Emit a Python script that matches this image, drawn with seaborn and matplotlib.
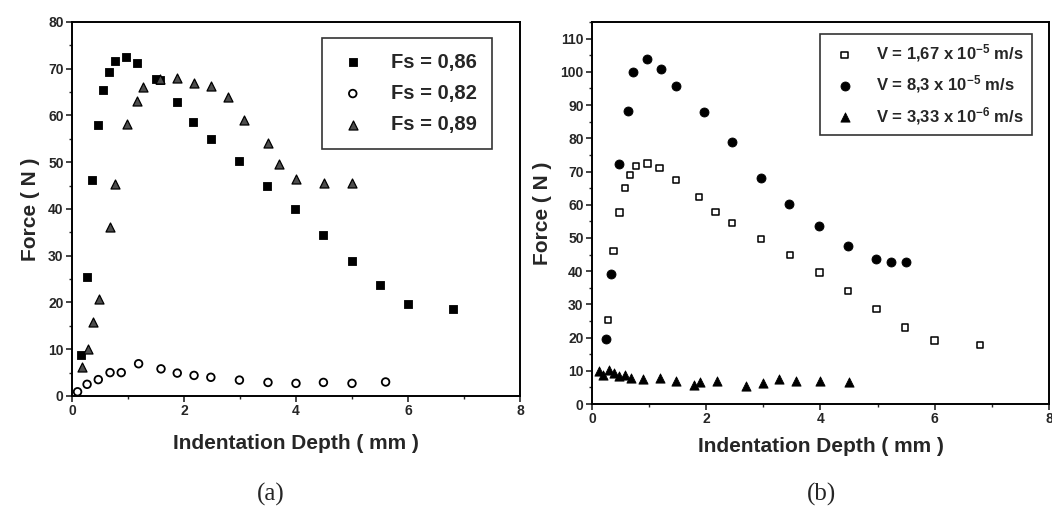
"""
Force vs indentation depth, two panels: (a) by Fs, (b) by indentation speed.
"""
import numpy as np
import pandas as pd
import matplotlib
matplotlib.use("Agg")
import matplotlib.pyplot as plt
from matplotlib.ticker import MultipleLocator
import seaborn as sns

# ---- panel (a) data ----
a_fs86_x = [0.17, 0.26, 0.36, 0.47, 0.56, 0.66, 0.76, 0.97, 1.17, 1.50, 1.58, 1.88,
            2.17, 2.48, 2.99, 3.48, 3.99, 4.49, 5.00, 5.50, 6.00, 6.80]
a_fs86_y = [8.8, 25.5, 46.3, 58.0, 65.4, 69.3, 71.6, 72.5, 71.3, 67.9, 67.5, 62.9,
            58.5, 55.0, 50.2, 44.9, 39.9, 34.4, 28.9, 23.7, 19.7, 18.6]
a_fs82_x = [0.10, 0.27, 0.47, 0.68, 0.88, 1.19, 1.59, 1.88, 2.18, 2.48, 2.99, 3.50,
            4.00, 4.49, 5.00, 5.60]
a_fs82_y = [0.9, 2.5, 3.5, 5.0, 5.0, 6.9, 5.8, 4.9, 4.4, 4.0, 3.4, 2.9,
            2.7, 2.9, 2.7, 3.0]
a_fs89_x = [0.18, 0.28, 0.37, 0.49, 0.68, 0.77, 0.98, 1.17, 1.27, 1.58, 1.88, 2.18,
            2.48, 2.79, 3.07, 3.50, 3.70, 4.00, 4.50, 5.00]
a_fs89_y = [6.2, 10.1, 15.8, 20.8, 36.1, 45.3, 58.1, 63.0, 66.0, 67.8, 68.0, 67.0,
            66.2, 64.0, 59.0, 54.2, 49.6, 46.5, 45.6, 45.6]

# ---- panel (b) data ----
b_v167_x = [0.28, 0.38, 0.48, 0.58, 0.67, 0.77, 0.97, 1.18, 1.47, 1.87, 2.16, 2.45,
            2.96, 3.47, 3.98, 4.48, 4.98, 5.48, 6.00, 6.79]
b_v167_y = [25.3, 46.0, 57.7, 65.1, 68.9, 71.6, 72.4, 71.1, 67.4, 62.3, 57.8, 54.5,
            49.7, 44.9, 39.6, 34.0, 28.6, 23.1, 19.1, 17.8]
b_v83_x = [0.25, 0.34, 0.47, 0.63, 0.72, 0.97, 1.21, 1.47, 1.97, 2.45, 2.96, 3.45,
           3.98, 4.48, 4.98, 5.23, 5.49]
b_v83_y = [19.5, 39.2, 72.4, 88.2, 99.9, 104.0, 100.8, 95.7, 88.0, 78.9, 68.1, 60.3,
           53.7, 47.7, 43.6, 42.9, 42.9]
b_v333_x = [0.12, 0.19, 0.30, 0.38, 0.48, 0.58, 0.69, 0.90, 1.19, 1.47, 1.79, 1.89,
            2.19, 2.70, 3.00, 3.27, 3.57, 4.00, 4.50]
b_v333_y = [9.8, 8.8, 10.1, 9.3, 8.3, 8.8, 7.7, 7.4, 7.7, 6.9, 5.7, 6.7,
            6.9, 5.5, 6.2, 7.4, 6.9, 6.9, 6.7]

sns.set_style("white")
plt.rcParams['font.family'] = ['Liberation Sans', 'DejaVu Sans']
plt.rcParams['font.weight'] = 'bold'
plt.rcParams['mathtext.default'] = 'regular'

fig = plt.figure(figsize=(10.52, 5.22), dpi=100)
ax_a = fig.add_axes([0.0684, 0.2414, 0.4259, 0.7165])
ax_b = fig.add_axes([0.5627, 0.2260, 0.4344, 0.7318])


def scatter(ax, x, y, label, **kw):
    df = pd.DataFrame({'x': x, 'y': y})
    sns.scatterplot(data=df, x='x', y='y', ax=ax, label=label, **kw)


scatter(ax_a, a_fs86_x, a_fs86_y, 'Fs = 0,86', marker='s', s=28,
        facecolor='black', edgecolor='black', linewidth=0.6)
scatter(ax_a, a_fs82_x, a_fs82_y, 'Fs = 0,82', marker='o', s=30,
        facecolors='none', edgecolors='black', linewidth=1.3)
scatter(ax_a, a_fs89_x, a_fs89_y, 'Fs = 0,89', marker='^', s=42,
        facecolor='0.3', edgecolor='black', linewidth=0.9)

scatter(ax_b, b_v167_x, b_v167_y, 'V = 1,67 x 10$^{-5}$ m/s', marker='s', s=22,
        facecolors='none', edgecolors='black', linewidth=1.1)
scatter(ax_b, b_v83_x, b_v83_y, 'V = 8,3 x 10$^{-5}$ m/s', marker='o', s=42,
        facecolor='black', edgecolor='black', linewidth=0.6)
scatter(ax_b, b_v333_x, b_v333_y, 'V = 3,33 x 10$^{-6}$ m/s', marker='^', s=44,
        facecolor='black', edgecolor='black', linewidth=0.6)

for ax, ytop, xpad in [(ax_a, 80, 11), (ax_b, 115, 8)]:
    ax.set_xlim(0, 8)
    ax.set_ylim(0, ytop)
    ax.xaxis.set_major_locator(MultipleLocator(2))
    ax.xaxis.set_minor_locator(MultipleLocator(1))
    ax.yaxis.set_major_locator(MultipleLocator(10))
    ax.yaxis.set_minor_locator(MultipleLocator(5))
    ax.tick_params(which='major', direction='out', length=4, width=1.2,
                   labelsize=10, bottom=True, left=True, pad=2)
    ax.tick_params(which='minor', direction='out', length=2.5, width=1.0,
                   bottom=True, left=True)
    for sp in ax.spines.values():
        sp.set_linewidth(1.4)
        sp.set_color('black')
    ax.set_xlabel('Indentation Depth ( mm )', fontsize=15, fontweight='bold', labelpad=xpad)
    ax.set_ylabel('Force ( N )', fontsize=15, fontweight='bold', labelpad=6)
ax_b.set_yticks(np.arange(0, 111, 10))

leg_a = ax_a.legend(loc='upper right', bbox_to_anchor=(0.96, 0.985), fontsize=14.5,
                    frameon=True, fancybox=False, edgecolor='black', handletextpad=1.1,
                    borderpad=0.75, labelspacing=0.6, handlelength=1.6)
leg_a.get_frame().set_linewidth(1.2)
leg_b = ax_b.legend(loc='upper right', bbox_to_anchor=(0.982, 0.99), fontsize=12,
                    frameon=True, fancybox=False, edgecolor='black', handletextpad=0.9,
                    borderpad=0.5, labelspacing=0.55, handlelength=2.0)
leg_b.get_frame().set_linewidth(1.2)

fig.text(0.257, 0.052, '(a)', fontsize=18, family='Liberation Serif',
         fontweight='normal', ha='center', va='center')
fig.text(0.781, 0.052, '(b)', fontsize=18, family='Liberation Serif',
         fontweight='normal', ha='center', va='center')

fig.savefig('out.png', dpi=100)
plt.close(fig)
